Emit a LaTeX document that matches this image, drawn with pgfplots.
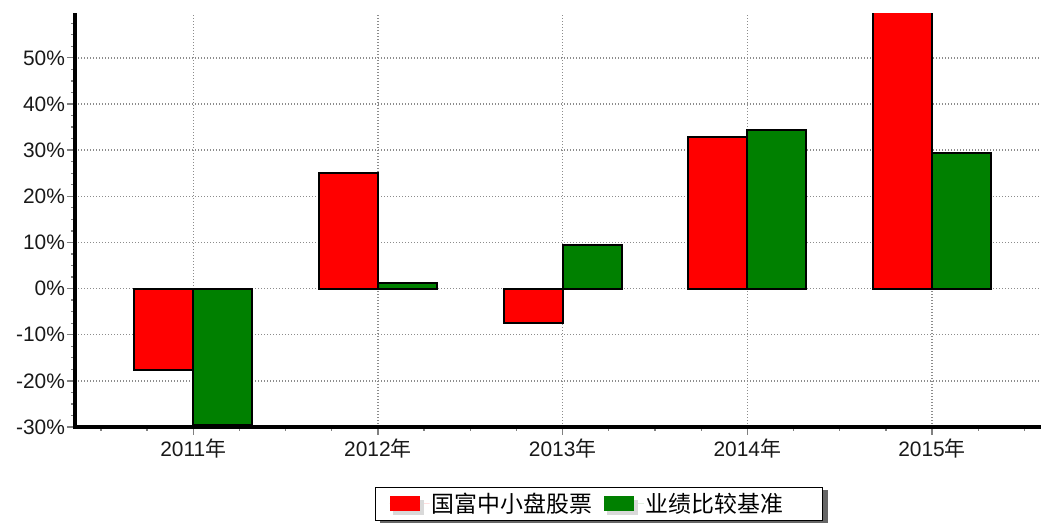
\documentclass[border=0pt]{standalone}
\usepackage{fontspec}
\setmainfont{Liberation Sans}
\newfontfamily\cjk{Noto Sans CJK SC}
\usepackage{pgfplots}
\pgfplotsset{compat=1.18}
\usetikzlibrary{calc}
\definecolor{barred}{RGB}{255,0,0}
\definecolor{bargreen}{RGB}{0,128,0}
\begin{document}
\begin{tikzpicture}
\useasboundingbox (0,0) rectangle (1041bp,523bp);
\begin{axis}[
  name=ax,
  at={(75bp,96bp)}, anchor=south west,
  scale only axis, width=966bp, height=413bp,
  xmin=-0.64, xmax=4.59, ymin=-30, ymax=59.5,
  axis x line=bottom, axis y line=left,
  axis line style={-},
  ybar=0pt, bar width=59bp,
  xtick={0,1,2,3,4},
  xticklabels={{2011{\cjk 年}},{2012{\cjk 年}},{2013{\cjk 年}},{2014{\cjk 年}},{2015{\cjk 年}}},
  minor xtick={-0.5,-0.25,0.25,0.5,0.75,1.25,1.5,1.75,2.25,2.5,2.75,3.25,3.5,3.75,4.25,4.5},
  ytick={-30,-20,-10,0,10,20,30,40,50},
  minor ytick={-27.5,-25,-22.5,-17.5,-15,-12.5,-7.5,-5,-2.5,2.5,5,7.5,12.5,15,17.5,22.5,25,27.5,32.5,35,37.5,42.5,45,47.5,52.5,55,57.5},
  yticklabel={\pgfmathprintnumber{\tick}\%},
  /pgf/number format/assume math mode=true,
  ticklabel style={font=\fontsize{21}{24}\selectfont, text=black!90},
  yticklabel style={xshift=1.5bp},
  tick align=outside,
  major tick length=8bp, minor tick length=4bp,
  every tick/.style={gray, line width=1.3bp},
  grid=major,
  major grid style={black!45, line width=1.4bp, dash pattern=on 1.4bp off 1.6bp},
  legend columns=2,
  legend style={name=leg, at={(0.5424,-0.1864)}, anchor=center, draw=black, line width=1bp,
    fill=white, font=\fontsize{23}{26}\selectfont\cjk,
    inner xsep=14bp, inner ysep=4bp,
    /tikz/every even column/.append style={column sep=10bp}},
  legend image code/.code={
    \path[draw=none] (0bp,0bp) -- (40bp,0bp);
    \fill[black!15, draw=none] (3bp,-11bp) rectangle (34bp,4bp);
    \path[#1, draw=none] (0bp,-7bp) rectangle (30bp,8bp);
  },
]
\addplot[fill=barred, draw=black, line width=2bp] coordinates {(0,-17.7) (1,25.0) (2,-7.5) (3,32.8) (4,62)};
\addplot[fill=bargreen, draw=black, line width=2bp] coordinates {(0,-29.5) (1,1.3) (2,9.4) (3,34.3) (4,29.3)};
\legend{国富中小盘股票,业绩比较基准\hspace*{23bp}}
\end{axis}
\draw[black, line width=3.5bp] (ax.south west) -- (ax.south east);
\draw[black, line width=4.2bp] ($(ax.south west)+(0,-1.7bp)$) -- ($(ax.north west)+(0,1bp)$);
\fill[black!60] ($(leg.north east)+(0.5bp,-3bp)$) rectangle ($(leg.south east)+(5bp,-3bp)$);
\fill[black!60] ($(leg.south west)+(5bp,-0.5bp)$) rectangle ($(leg.south east)+(5bp,-3bp)$);
\end{tikzpicture}
\end{document}
